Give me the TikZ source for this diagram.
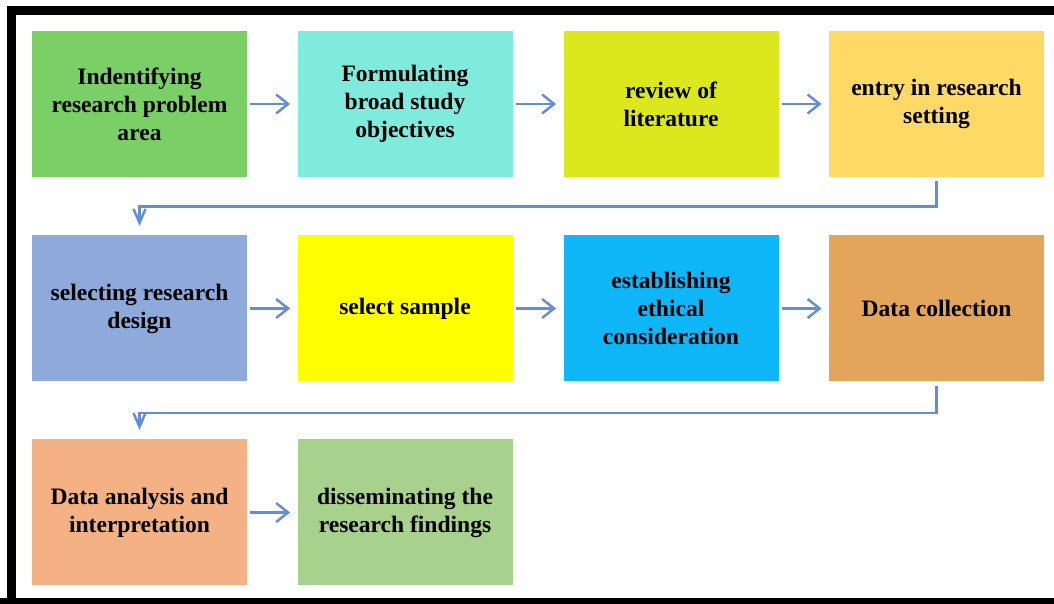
\documentclass[tikz,border=0pt]{standalone}
\usepackage{fontspec}
\setmainfont{Liberation Serif}
\usetikzlibrary{arrows.meta}
\definecolor{cgreen}{RGB}{122,208,102}
\definecolor{ccyan}{RGB}{126,235,221}
\definecolor{clime}{RGB}{220,232,30}
\definecolor{cgold}{RGB}{255,217,102}
\definecolor{cblue}{RGB}{142,170,219}
\definecolor{cyellow}{RGB}{255,255,0}
\definecolor{csky}{RGB}{15,182,248}
\definecolor{corange}{RGB}{227,165,90}
\definecolor{csalmon}{RGB}{244,177,131}
\definecolor{clgreen}{RGB}{169,209,142}
\definecolor{arrowblue}{RGB}{100,140,215}
\begin{document}
\begin{tikzpicture}[
        scale=1,
        thick,
        font=\fontsize{6.7}{7.95}\selectfont\bfseries
    ]
    \tikzset{
        stepnode/.style = {rectangle, align=center, minimum width=2.15cm, minimum height=1.46cm, inner sep=0pt},
        edgen/.style = {-{Straight Barb[length=1.2mm,width=1.9mm,line width=0.7pt]}, line width=0.7pt, arrowblue},
        edged/.style = {-{Straight Barb[length=1.4mm,width=1.2mm,line width=0.7pt]}, line width=0.7pt, arrowblue},
    }
    \useasboundingbox (0,0) rectangle (10.54,6.04);
    \begin{scope}
    \clip (0,0) rectangle (10.54,6.04);
    \draw[line width=0.09cm] (0.12,-0.5) -- (0.12,5.93) -- (10.8,5.93);
    \draw[line width=0.09cm] (0,0.015) -- (10.8,0.015);
    \end{scope}
    %
    \node[stepnode, fill=cgreen] at (1.395,5.00) (a) {Indentifying\\research problem\\area};
    \node[stepnode, fill=ccyan] at (4.05,5.00) (b) {Formulating\\broad study\\objectives};
    \node[stepnode, fill=clime] at (6.71,5.00) (c) {review of\\literature};
    \node[stepnode, fill=cgold] at (9.365,5.00) (d) {entry in research\\setting};
    \node[stepnode, fill=cblue] at (1.395,2.955) (e) {selecting research\\design};
    \node[stepnode, fill=cyellow] at (4.05,2.955) (f) {select sample};
    \node[stepnode, fill=csky] at (6.71,2.955) (g) {establishing\\ethical\\consideration};
    \node[stepnode, fill=corange] at (9.365,2.955) (h) {Data collection};
    \node[stepnode, fill=csalmon] at (1.395,0.915) (i) {Data analysis and\\interpretation};
    \node[stepnode, fill=clgreen] at (4.05,0.915) (j) {disseminating the\\research findings};
    %
    \draw[edgen, shorten <=0.02cm, shorten >=0.06cm] (a) -- (b);
    \draw[edgen, shorten <=0.02cm, shorten >=0.06cm] (b) -- (c);
    \draw[edgen, shorten <=0.02cm, shorten >=0.06cm] (c) -- (d);
    \draw[edged, shorten <=0.03cm, shorten >=0.08cm] (d.south) -- ++(0,-0.28) -| (e.north);
    %
    \draw[edgen, shorten <=0.02cm, shorten >=0.06cm] (e) -- (f);
    \draw[edgen, shorten <=0.02cm, shorten >=0.06cm] (f) -- (g);
    \draw[edgen, shorten <=0.02cm, shorten >=0.06cm] (g) -- (h);
    \draw[edged, shorten <=0.03cm, shorten >=0.08cm] (h.south) -- ++(0,-0.30) -| (i.north);
    %
    \draw[edgen, shorten <=0.02cm, shorten >=0.06cm] (i) -- (j);
\end{tikzpicture}
\end{document}
